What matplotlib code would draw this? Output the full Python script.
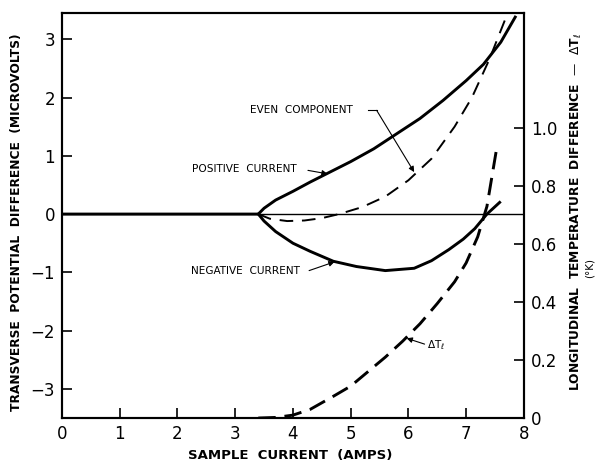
import matplotlib.pyplot as plt

# Values
pos_x = [0, 3.4, 3.5, 3.7, 4.0, 4.3, 4.6, 5.0, 5.4, 5.8, 6.2, 6.6, 7.0, 7.3, 7.6, 7.85]
pos_y = [0, 0, 0.1, 0.24, 0.39, 0.55, 0.70, 0.90, 1.12, 1.38, 1.64, 1.95, 2.29, 2.57, 2.95, 3.38]

neg_x = [3.4, 3.5, 3.7, 4.0, 4.3, 4.7, 5.1, 5.6, 6.1, 6.4, 6.7, 6.95, 7.15, 7.36, 7.58]
neg_y = [0, -0.12, -0.3, -0.5, -0.64, -0.81, -0.9, -0.97, -0.93, -0.8, -0.61, -0.43, -0.25, 0.0, 0.2]

even_x = [3.4, 3.6, 3.9, 4.2, 4.5, 4.8, 5.2, 5.6, 6.0, 6.4, 6.8, 7.1, 7.4, 7.7]
even_y = [0, -0.08, -0.12, -0.11, -0.07, 0.0, 0.12, 0.3, 0.58, 0.95, 1.5, 2.0, 2.65, 3.4]

dt_x = [3.4, 3.7, 4.0, 4.3, 4.7, 5.0, 5.3, 5.6, 5.9, 6.2, 6.5, 6.8, 7.0, 7.2, 7.36, 7.52]
dt_y = [0, 0.002, 0.01, 0.03, 0.075, 0.11, 0.16, 0.21, 0.265, 0.325, 0.395, 0.47, 0.535, 0.625, 0.73, 0.92]

x_ticks = [0, 1, 2, 3, 4, 5, 6, 7, 8]
left_ticks = [-3, -2, -1, 0, 1, 2, 3]
right_ticks = [0, 0.2, 0.4, 0.6, 0.8, 1.0]
right_labels = ['0', '0.2', '0.4', '0.6', '0.8', '1.0']

plt.rcParams['font.family'] = 'DejaVu Sans'

fig = plt.figure(figsize=(5.96, 4.65), dpi=100)
ax = fig.add_axes([0.104, 0.101, 0.775, 0.871])
ax2 = ax.twinx()

ax.axhline(0, color='black', lw=1.0)
ax.plot(pos_x, pos_y, color='black', lw=2.1)
ax.plot(neg_x, neg_y, color='black', lw=2.1)
ax.plot(even_x, even_y, color='black', lw=1.4, dashes=(7, 4.5))
ax2.plot(dt_x, dt_y, color='black', lw=2.1, dashes=(6, 3))

ax.set_xlim(0, 8)
ax.set_ylim(-3.5, 3.45)
ax2.set_ylim(0, 1.397)

ax.set_xticks(x_ticks)
ax.set_yticks(left_ticks)
ax2.set_yticks(right_ticks)
ax2.set_yticklabels(right_labels)

for a in (ax, ax2):
    a.tick_params(direction='in', length=7, width=1.2, labelsize=12, pad=5)
    for s in a.spines.values():
        s.set_linewidth(1.5)

# axis titles placed as figure text to match the scan
fig.text(290 / 596, 1 - 455 / 465, 'SAMPLE  CURRENT  (AMPS)', fontsize=9.5,
         fontweight='bold', ha='center', va='center')
fig.text(17 / 596, 1 - 222 / 465, 'TRANSVERSE  POTENTIAL  DIFFERENCE  (MICROVOLTS)',
         fontsize=8.8, fontweight='bold', rotation=90, ha='center', va='center')
fig.text(576 / 596, 1 - 212 / 465,
         r'LONGITUDINAL  TEMPERATURE  DIFFERENCE  —  $\Delta\mathregular{T}_{\ell}$',
         fontsize=8.8, fontweight='bold', rotation=90, ha='center', va='center')
fig.text(590 / 596, 1 - 268 / 465, '(°K)', rotation=90, fontsize=7.5,
         ha='center', va='center')

arrow = dict(arrowstyle='-|>', color='black', lw=0.8, mutation_scale=8, shrinkA=0, shrinkB=0)

ax.text(3.25, 1.78, 'EVEN  COMPONENT', fontsize=7.6, va='center', ha='left')
ax.plot([5.3, 5.45], [1.78, 1.78], color='black', lw=0.8)
ax.annotate('', xy=(6.1, 0.72), xytext=(5.45, 1.78), arrowprops=arrow)

ax.text(2.25, 0.78, 'POSITIVE  CURRENT', fontsize=7.6, va='center', ha='left')
ax.annotate('', xy=(4.6, 0.69), xytext=(4.26, 0.75), arrowprops=arrow)

ax.text(2.23, -0.97, 'NEGATIVE  CURRENT', fontsize=7.6, va='center', ha='left')
ax.annotate('', xy=(4.72, -0.82), xytext=(4.28, -0.97), arrowprops=arrow)

ax2.text(6.33, 0.25, r'$\Delta\mathregular{T}_{\ell}$', fontsize=7.6, va='center', ha='left')
ax2.annotate('', xy=(5.97, 0.275), xytext=(6.28, 0.255), arrowprops=arrow)

fig.savefig('out.png', dpi=100)
